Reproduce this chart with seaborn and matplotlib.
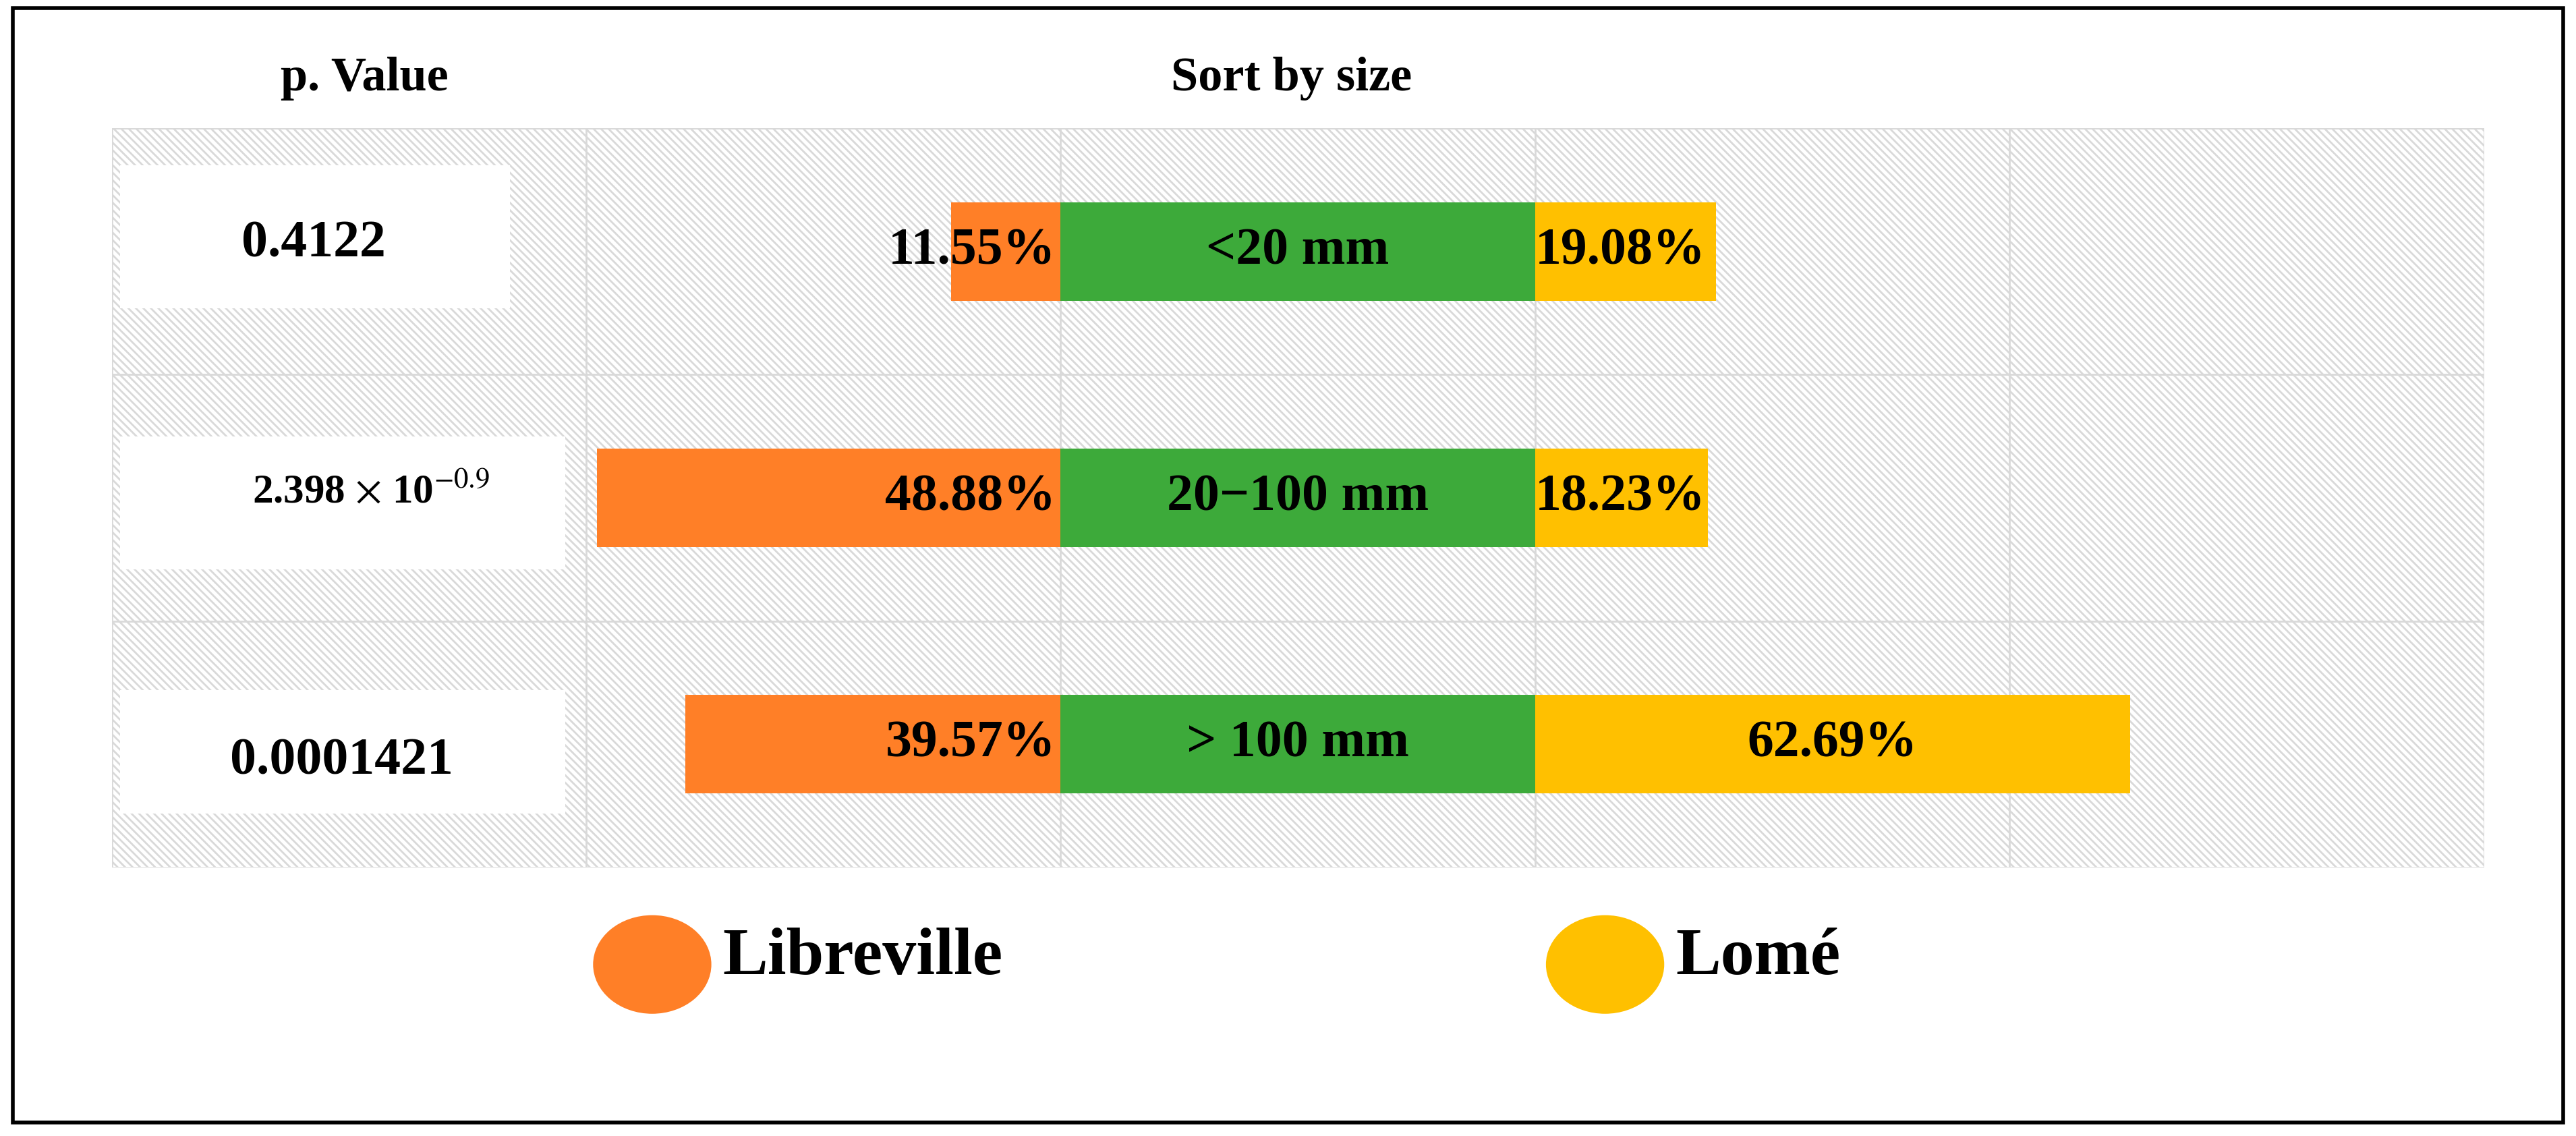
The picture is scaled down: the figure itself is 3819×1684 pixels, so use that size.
import matplotlib
matplotlib.use("Agg")
import matplotlib.pyplot as plt
from matplotlib.patches import Rectangle, Ellipse
import pandas as pd
import seaborn as sns

sizes = ["<20 mm", "20\u2212100 mm", "> 100 mm"]
libreville = [11.55, 48.88, 39.57]
lome = [19.08, 18.23, 62.69]
p_values = ["0.4122", r"2.398 $\times$ 10$^{-0.9}$", "0.0001421"]
center_width = 50

ORANGE = "#FF7F27"
GREEN = "#3DAA3A"
YELLOW = "#FFC000"
GRID = "#d9d9d9"

sns.set_theme(style="white")
plt.rcParams["font.family"] = ["Liberation Serif", "DejaVu Serif"]
plt.rcParams["text.color"] = "black"
plt.rcParams["mathtext.fontset"] = "stix"
plt.rcParams["hatch.linewidth"] = 2
plt.rcParams["hatch.color"] = GRID

W, H = 1568, 691.4  # reference layout units
fig = plt.figure(figsize=(38.19, 16.84), dpi=100)
ax = fig.add_axes([68 / W, 1 - 528 / H, (1512 - 68) / W, (528 - 78) / H])

df = pd.DataFrame({"size": sizes, "lib": libreville, "lome": lome})
df["lome_end"] = center_width + df["lome"]
df["lib_neg"] = -df["lib"]
df["center"] = center_width

# hatched background
ax.add_patch(Rectangle((-100, -0.5), 250, 3, facecolor="white", edgecolor=GRID,
                       hatch="\\\\\\", linewidth=0, zorder=0))

sns.barplot(data=df, x="lome_end", y="size", color=YELLOW, saturation=1, width=0.4,
            ax=ax, orient="h", linewidth=0, zorder=2)
sns.barplot(data=df, x="center", y="size", color=GREEN, saturation=1, width=0.4,
            ax=ax, orient="h", linewidth=0, zorder=3)
sns.barplot(data=df, x="lib_neg", y="size", color=ORANGE, saturation=1, width=0.4,
            ax=ax, orient="h", linewidth=0, zorder=3)

ax.set_xlim(-100, 150)
ax.set_ylim(2.5, -0.5)
for x in range(-100, 151, 50):
    ax.axvline(x, color=GRID, lw=2, zorder=1)
for y in (-0.5, 0.5, 1.5, 2.5):
    ax.axhline(y, color=GRID, lw=2, zorder=1)
ax.set_xticks([])
ax.set_yticks([])
ax.set_xlabel("")
ax.set_ylabel("")
for s in ax.spines.values():
    s.set_visible(False)

fs = 56
for i in range(3):
    ax.text(-0.5, i, f"{libreville[i]:.2f}%", ha="right", va="center",
            fontsize=fs, fontweight="bold", zorder=5)
    ax.text(center_width / 2, i, sizes[i], ha="center", va="center",
            fontsize=fs, fontweight="bold", zorder=5)
    if lome[i] > 40:
        ax.text(center_width + lome[i] / 2, i, f"{lome[i]:.2f}%", ha="center",
                va="center", fontsize=fs, fontweight="bold", zorder=5)
    else:
        ax.text(center_width, i, f"{lome[i]:.2f}%", ha="left", va="center",
                fontsize=fs, fontweight="bold", zorder=5)

# p-value boxes
boxes = [(-99.1, -58.0, -0.35, 0.23, -78.7, -0.03, fs),
         (-99.1, -52.2, 0.75, 1.29, -72.7, 0.98, 44),
         (-99.1, -52.2, 1.78, 2.28, -75.8, 2.07, fs)]
for (x0, x1, y0, y1, tx, ty, f), p in zip(boxes, p_values):
    ax.add_patch(Rectangle((x0, y0), x1 - x0, y1 - y0, facecolor="white",
                           edgecolor="none", zorder=4))
    ax.text(tx, ty, p, ha="center", va="center", fontsize=f, fontweight="bold",
            zorder=5)

fig.text(222 / W, 1 - 48 / H, "p. Value", ha="center", va="center",
         fontsize=52, fontweight="bold")
fig.text(786 / W, 1 - 48 / H, "Sort by size", ha="center", va="center",
         fontsize=52, fontweight="bold")

# legend
u = 38.19 / W
for cx, col, lab in [(397, ORANGE, "Libreville"), (977, YELLOW, "Lom\u00e9")]:
    fig.patches.append(Ellipse((cx * u, (H - 587) * u), 72 * u, 60 * u,
                               facecolor=col, edgecolor="none",
                               transform=fig.dpi_scale_trans))
    fig.text((cx + 43) / W, 1 - 583 / H, lab, ha="left", va="center",
             fontsize=72, fontweight="bold")

# outer border
fig.patches.append(Rectangle((8 / W, 1 - 683 / H), (1560 - 8) / W, (683 - 5) / H,
                             fill=False, edgecolor="black", linewidth=4,
                             transform=fig.transFigure))

fig.savefig("out.png", dpi=100)
